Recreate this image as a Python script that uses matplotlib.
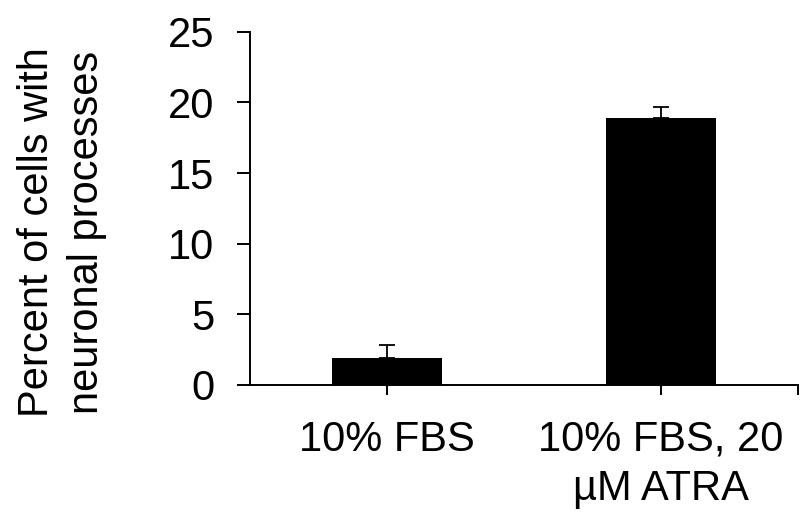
import matplotlib
matplotlib.use("Agg")
import matplotlib.pyplot as plt

categories = ["10% FBS", "10% FBS, 20\nµM ATRA"]
values = [1.93, 18.92]
errors = [0.92, 0.73]
yticks = [0, 5, 10, 15, 20, 25]
ylabel = "Percent of cells with\nneuronal processes"

plt.rcParams['font.family'] = ['Liberation Sans', 'DejaVu Sans']

fig = plt.figure(figsize=(8.01, 5.12), dpi=100)
ax = fig.add_axes([250/801, 1 - 385/512, 548/801, (385 - 31.7)/512])

x = list(range(len(categories)))
ax.bar(x, values, width=0.404, color='black', zorder=2)
ax.errorbar(x, values, yerr=[[0]*len(errors), errors], fmt='none',
            ecolor='black', elinewidth=1.3, capsize=5.5, capthick=1.3, zorder=3)

ax.set_xlim(-0.5, 1.5)
ax.set_ylim(0, 25)
ax.set_yticks(yticks)
ax.set_yticklabels([str(t) for t in yticks])
ax.set_xticks([0, 1, 1.5])
ax.set_xticklabels(categories + [""])

for s in ['top', 'right']:
    ax.spines[s].set_visible(False)
for s in ['left', 'bottom']:
    ax.spines[s].set_linewidth(1.4)
    ax.spines[s].set_color('black')

ax.tick_params(axis='y', direction='out', length=9.5, width=1.4, labelsize=30, pad=16)
ax.tick_params(axis='x', direction='out', length=7, width=1.4, labelsize=30, pad=18)
for lbl in ax.get_xticklabels():
    lbl.set_multialignment('center')
    lbl.set_linespacing(1.3)

fig.text(62/801, 1 - 232/512, ylabel, rotation=90, ha='center', va='center',
         fontsize=30, multialignment='center', linespacing=1.3)

fig.savefig("out.png", dpi=100)
